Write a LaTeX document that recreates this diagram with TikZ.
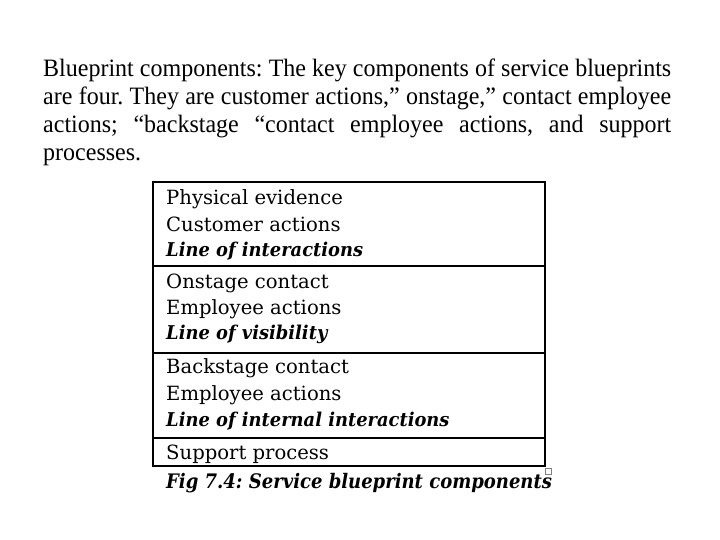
\documentclass[tikz,border=0pt]{standalone}
\usepackage{fontspec}
\setmainfont{Liberation Serif}
\newfontfamily\parafont[FakeStretch=0.96,Ligatures=TeX]{Liberation Serif}
\newfontfamily\boxfont{DejaVu Serif}
\newfontfamily\boxbifont[FakeStretch=0.94]{DejaVu Serif}
\newfontfamily\capfont[FakeStretch=0.9]{DejaVu Serif}
\frenchspacing
\begin{document}
\begin{tikzpicture}[x=1pt,y=-1pt,
  para/.style={anchor=base west,inner sep=0pt,text width=628pt,align=justify,font=\parafont\fontsize{25}{28}\selectfont},
  item/.style={anchor=base west,inner sep=0pt,font=\boxfont\fontsize{19.6}{22}\selectfont},
  itemb/.style={anchor=base west,inner sep=0pt,font=\boxbifont\bfseries\itshape\fontsize{19}{22}\selectfont},
  frame/.style={line width=1.8pt},
  caption/.style={anchor=base west,inner sep=0pt,font=\capfont\bfseries\itshape\fontsize{20}{22}\selectfont}]
\useasboundingbox (0,0) rectangle (720,540);
\node[para] (p) at (43,77) {\frenchspacing Blueprint components: The key components of service blueprints\linebreak are four. They are customer actions,” onstage,” contact employee\linebreak actions; “backstage “contact employee actions, and support\linebreak processes.};
\coordinate (tl) at (153,182);
\coordinate (br) at (545,466);
\draw[frame] (tl) rectangle (br);
\draw[frame] (153,266) -- (545,266);
\draw[frame] (153,353) -- (545,353);
\draw[frame] (153,438) -- (545,438);
\node[item] (a1) at (166,205) {Physical evidence};
\node[item] (a2) at (166,231) {Customer actions};
\node[itemb] (a3) at (166,256) {Line of interactions};
\node[item] (b1) at (166,288) {Onstage contact};
\node[item] (b2) at (166,314) {Employee actions};
\node[itemb] (b3) at (166,339) {Line of visibility};
\node[item] (c1) at (166,373) {Backstage contact};
\node[item] (c2) at (166,400) {Employee actions};
\node[itemb] (c3) at (166,426) {Line of internal interactions};
\node[item] (d1) at (166,459) {Support process};
\node[caption] (cap) at (166,488) {Fig 7.4: Service blueprint components};
\draw[gray,line width=0.6pt] (545.5,468.5) rectangle (551.5,474.5);
\end{tikzpicture}
\end{document}
